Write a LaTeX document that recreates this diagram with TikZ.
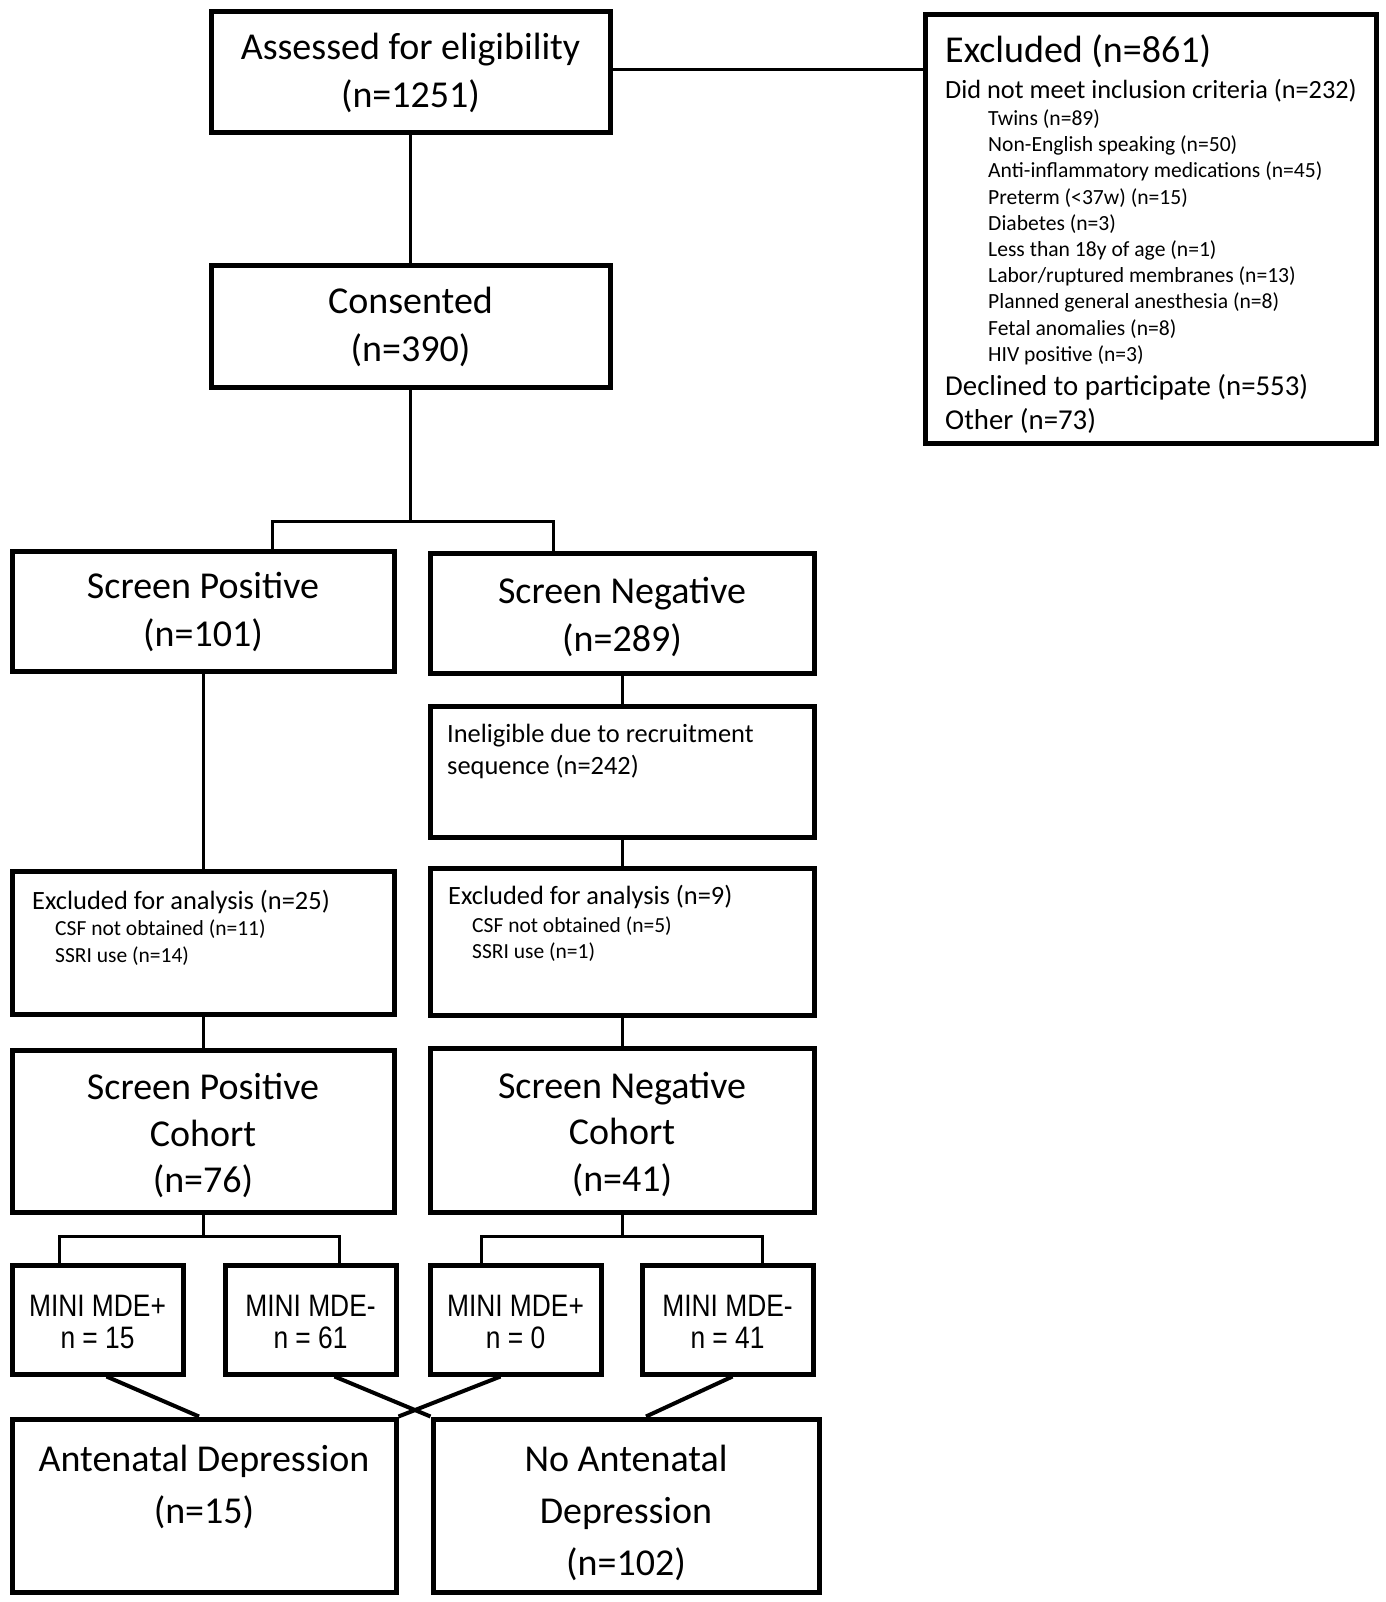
\documentclass[tikz,border=0pt]{standalone}
\usepackage{fontspec}
\setmainfont{Carlito}
\newfontfamily\narrowfont[FakeStretch=0.85]{Liberation Sans}
\begin{document}
\begin{tikzpicture}[x=1pt,y=-1pt,
  box/.style={draw,line width=5pt,inner sep=0pt},
  ctxt/.style={align=center,inner sep=0pt},
  conn/.style={line width=3pt},
  diag/.style={line width=4pt},
  bigtxt/.style={font=\fontsize{38}{48}\selectfont},
  cohtxt/.style={font=\fontsize{38}{46.5}\selectfont},
  adtxt/.style={font=\fontsize{38}{52}\selectfont},
  midtxt/.style={font=\fontsize{26.3}{32}\selectfont},
  lrgtxt/.style={font=\fontsize{28.8}{32}\selectfont},
  smtxt/.style={font=\fontsize{21.6}{26}\selectfont},
  antxt/.style={font=\fontsize{26.4}{32}\selectfont},
  subtxt/.style={font=\fontsize{21.5}{26}\selectfont},
  minitxt/.style={font=\narrowfont\fontsize{31}{32}\selectfont},
  lt/.style={anchor=base west,inner sep=0pt},
]
\useasboundingbox (0,0) rectangle (1385,1602);
\fill[white] (0,0) rectangle (1385,1602);

% boxes
\node[box,minimum width=399pt,minimum height=121pt] (assessed) at (410.5,72.5) {};
\node[box,minimum width=451pt,minimum height=428pt] (excluded) at (1150.5,229) {};
\node[box,minimum width=399pt,minimum height=121pt] (consented) at (410.5,326.5) {};
\node[box,minimum width=382pt,minimum height=120pt] (sp) at (203,611) {};
\node[box,minimum width=384pt,minimum height=120pt] (sn) at (622,613) {};
\node[box,minimum width=384pt,minimum height=131pt] (inel) at (622,771.5) {};
\node[box,minimum width=382pt,minimum height=143pt] (exL) at (203,942.5) {};
\node[box,minimum width=384pt,minimum height=147pt] (exR) at (622,941.5) {};
\node[box,minimum width=382pt,minimum height=162pt] (spc) at (203,1131) {};
\node[box,minimum width=384pt,minimum height=164pt] (snc) at (622,1130) {};
\node[box,minimum width=171pt,minimum height=109pt] (m1) at (97.5,1319.5) {};
\node[box,minimum width=171pt,minimum height=109pt] (m2) at (310.5,1319.5) {};
\node[box,minimum width=171pt,minimum height=109pt] (m3) at (515.5,1319.5) {};
\node[box,minimum width=171pt,minimum height=109pt] (m4) at (727.5,1319.5) {};
\node[box,minimum width=384pt,minimum height=173pt] (ad) at (204,1505.5) {};
\node[box,minimum width=386pt,minimum height=173pt] (nad) at (626,1505.5) {};

% centred texts
\node[ctxt,bigtxt] (assessedT) at (410.5,72.5) {Assessed for eligibility\\(n=1251)};
\node[ctxt,bigtxt] (consentedT) at (410.5,326.5) {Consented\\(n=390)};
\node[ctxt,bigtxt] (spT) at (203,612) {Screen Positive\\(n=101)};
\node[ctxt,bigtxt] (snT) at (622,616.5) {Screen Negative\\(n=289)};
\node[ctxt,cohtxt] (spcT) at (203,1135.6) {Screen Positive\\Cohort\\(n=76)};
\node[ctxt,cohtxt] (sncT) at (622,1134) {Screen Negative\\Cohort\\(n=41)};
\node[ctxt,minitxt] (m1T) at (97.5,1321.5) {MINI MDE+\\n = 15};
\node[ctxt,minitxt] (m2T) at (310.5,1321.5) {MINI MDE-\\n = 61};
\node[ctxt,minitxt] (m3T) at (515.5,1321.5) {MINI MDE+\\n = 0};
\node[ctxt,minitxt] (m4T) at (727.5,1321.5) {MINI MDE-\\n = 41};
\node[ctxt,adtxt] (adT) at (204,1487) {Antenatal Depression\\(n=15)};
\node[ctxt,adtxt] (nadT) at (626,1513) {No Antenatal\\Depression\\(n=102)};

% left-aligned texts
\node[lt,bigtxt] (exT1) at (945,63) {Excluded (n=861)};
\node[lt,midtxt] (exT2) at (945,98.5) {Did not meet inclusion criteria (n=232)};
\foreach \t [count=\i from 0] in {Twins (n=89),Non-English speaking (n=50),Anti-inflammatory medications (n=45),Preterm (<37w) (n=15),Diabetes (n=3),Less than 18y of age (n=1),Labor/ruptured membranes (n=13),Planned general anesthesia (n=8),Fetal anomalies (n=8),HIV positive (n=3)}
  \node[lt,smtxt] (exI\i) at (988,125.5+26.2*\i) {\t};
\node[lt,lrgtxt] (exT3) at (945,395) {Declined to participate (n=553)};
\node[lt,lrgtxt] (exT4) at (945,429) {Other (n=73)};

\node[lt,antxt] (inT1) at (447,742) {Ineligible due to recruitment};
\node[lt,antxt] (inT2) at (447,774) {sequence (n=242)};

\node[lt,antxt] (exLT1) at (32,909) {Excluded for analysis (n=25)};
\node[lt,subtxt] (exLT2) at (55,935.6) {CSF not obtained (n=11)};
\node[lt,subtxt] (exLT3) at (55,962.6) {SSRI use (n=14)};

\node[lt,antxt] (exRT1) at (448,904) {Excluded for analysis (n=9)};
\node[lt,subtxt] (exRT2) at (472,932.6) {CSF not obtained (n=5)};
\node[lt,subtxt] (exRT3) at (472,958) {SSRI use (n=1)};

% connectors
\draw[conn] ([yshift=2.5pt]assessed.east) -- ([yshift=2.5pt]assessed.east -| excluded.west);
\draw[conn] (assessed.south) -- (consented.north);
\coordinate (b1) at (410.5,521);
\coordinate (b1l) at (272,521);
\coordinate (b1r) at (553,521);
\draw[conn] (consented.south) -- (b1);
\draw[conn] (b1l |- sp.north) -- (b1l) -- (b1r) -- (b1r |- sn.north);
\draw[conn] (sp.south) -- (exL.north);
\draw[conn] (sn.south) -- (inel.north);
\draw[conn] (inel.south) -- (exR.north);
\draw[conn] (exL.south) -- (spc.north);
\draw[conn] (exR.south) -- (snc.north);

\coordinate (b2) at (203,1236);
\coordinate (b2l) at (59,1236);
\coordinate (b2r) at (339,1236);
\draw[conn] (spc.south) -- (b2);
\draw[conn] (b2l |- m1.north) -- (b2l) -- (b2r) -- (b2r |- m2.north);
\coordinate (b3) at (622,1236);
\coordinate (b3l) at (481,1236);
\coordinate (b3r) at (762,1236);
\draw[conn] (snc.south) -- (b3);
\draw[conn] (b3l |- m3.north) -- (b3l) -- (b3r) -- (b3r |- m4.north);

\draw[diag] ([xshift=9pt]m1.south) -- ([xshift=-5pt]ad.north);
\draw[diag] ([xshift=24pt]m2.south) -- (nad.north west);
\draw[diag] ([xshift=-15pt]m3.south) -- (ad.north east);
\draw[diag] ([xshift=5pt]m4.south) -- ([xshift=20pt]nad.north);
\end{tikzpicture}
\end{document}
